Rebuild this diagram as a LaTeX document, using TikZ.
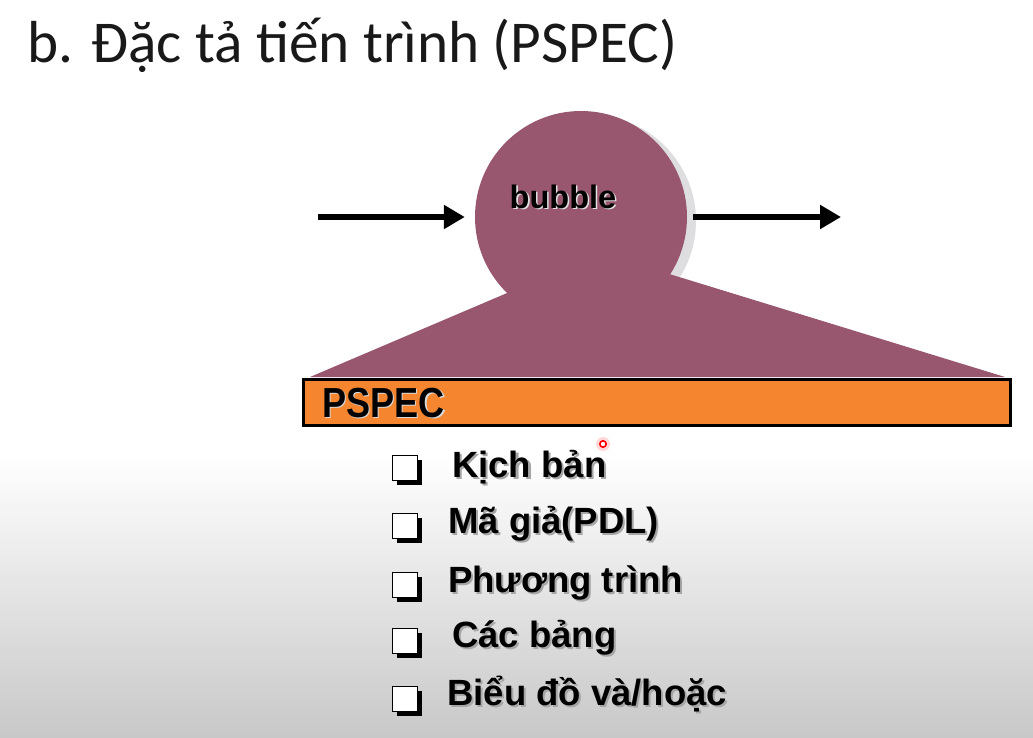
\documentclass[tikz,border=0pt]{standalone}
\usepackage{fontspec}
\setmainfont{Liberation Sans}
\newfontfamily\titlefont{Carlito}
\usetikzlibrary{arrows.meta,shadows}
\definecolor{mauve}{RGB}{152,87,111}
\definecolor{barorange}{RGB}{245,134,47}
\definecolor{softshadow}{RGB}{222,222,224}
\definecolor{bggray}{RGB}{200,200,200}
\begin{document}
\begin{tikzpicture}[x=1pt,y=-1pt,
  flow/.style={line width=6.5pt,-{Triangle[length=21pt,width=23pt]}},
  tick/.style={draw=black,fill=white,line width=1.4pt,minimum size=25pt,inner sep=0pt,
    drop shadow={shadow xshift=4pt,shadow yshift=-4pt,fill=black,opacity=1}},
  itemtext/.style={anchor=base west,inner sep=0pt,font=\fontsize{36.5}{40}\selectfont\bfseries},
  itemshade/.style={itemtext,text=gray!70}]
% page and background fade
\useasboundingbox (0,0) rectangle (1033,738);
\fill[white] (0,0) rectangle (1033,738);
\shade[top color=white,bottom color=bggray] (0,455) rectangle (1033,738);

% heading
\node[anchor=base west,inner sep=0pt,text=black!90,font=\titlefont\fontsize{59.3}{72}\selectfont]
  (title) at (27,63) {b. Đặc tả tiến trình (PSPEC)};

% process bubble with its soft shadow and the wedge opening onto the PSPEC bar
\fill[softshadow] (590,221) circle (106);
\node[circle,fill=mauve,minimum size=212pt,inner sep=0pt] (bubble) at (581,217) {};
\fill[mauve] (310,377) -- (540,279) -- (640,265) -- (1005,377) -- cycle;
\node[anchor=base,inner sep=0pt,text=white!75!gray,font=\fontsize{32.5}{36}\selectfont\bfseries]
  (bubbleshade) at (564.5,209.5) {bubble};
\node[anchor=base,inner sep=0pt,font=\fontsize{32.5}{36}\selectfont\bfseries]
  (bubbletext) at (563,208) {bubble};

% data flows in and out
\coordinate (srcL) at (318,217);
\coordinate (sinkR) at (841,217);
\draw[flow,shorten >=10pt] (srcL) -- (bubble.west);
\draw[flow,shorten <=6pt] (bubble.east) -- (sinkR);

% PSPEC bar
\node[draw=black,line width=3pt,fill=barorange,anchor=north west,
  minimum width=707pt,minimum height=46pt,inner sep=0pt] (bar) at (301.5,377.5) {};
\node[anchor=base west,inner sep=0pt,text=white!70!gray,xscale=0.86,
  font=\fontsize{42}{46}\selectfont\bfseries] (barshade) at (323.5,418.5) {PSPEC};
\node[anchor=base west,inner sep=0pt,xscale=0.86,
  font=\fontsize{42}{46}\selectfont\bfseries] (bartext) at (322,417) {PSPEC};

% pointer mark
\fill[red!25,opacity=0.6] (603,444) circle (7);
\draw[red,line width=1.6pt,fill=white] (603,444) circle (3.2);

% checklist
\node[tick] (t1) at (405,468) {};
\node[tick] (t2) at (405,526) {};
\node[tick] (t3) at (405,585) {};
\node[tick] (t4) at (405,641) {};
\node[tick] (t5) at (405,699) {};

\node[itemshade] (s1) at (454,479) {Kịch bản};
\node[itemtext]  (i1) at (452,477) {Kịch bản};
\node[itemshade] (s2) at (450,535) {Mã giả(PDL)};
\node[itemtext]  (i2) at (448,533) {Mã giả(PDL)};
\node[itemshade] (s3) at (450,594) {Phương trình};
\node[itemtext]  (i3) at (448,592) {Phương trình};
\node[itemshade] (s4) at (454,649) {Các bảng};
\node[itemtext]  (i4) at (452,647) {Các bảng};
\node[itemshade] (s5) at (449,707) {Biểu đồ và/hoặc};
\node[itemtext]  (i5) at (447,705) {Biểu đồ và/hoặc};
\end{tikzpicture}
\end{document}
